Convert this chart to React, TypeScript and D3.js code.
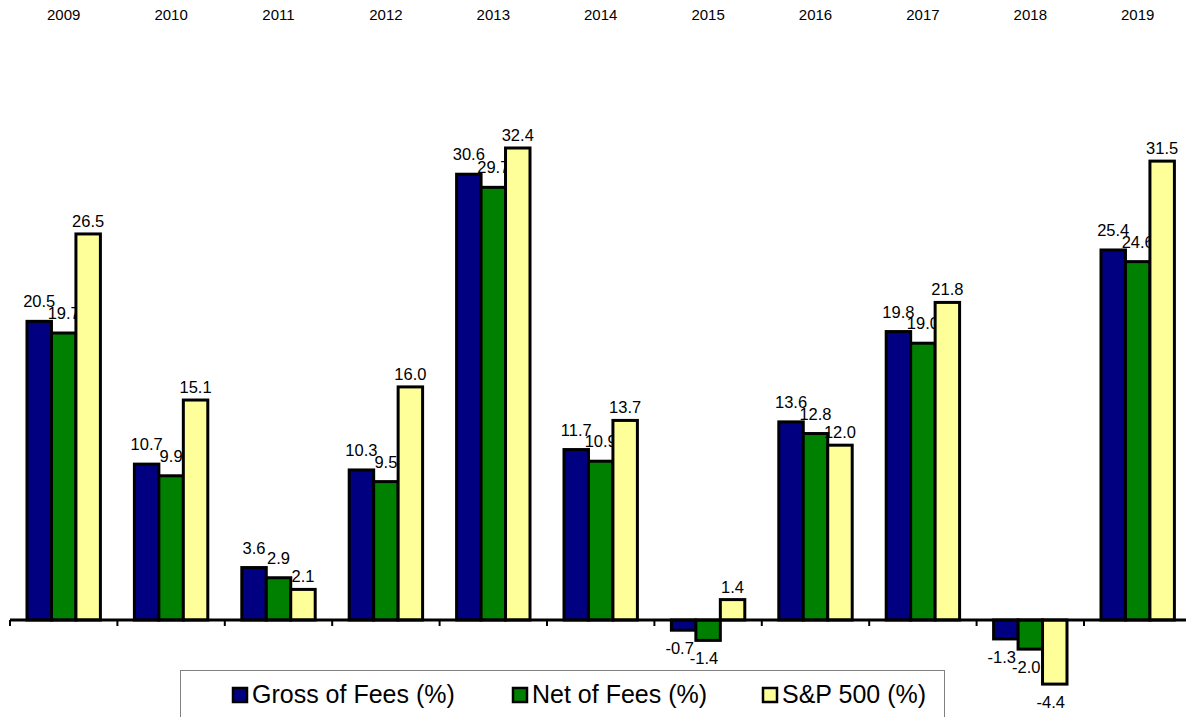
import React from "react";
import { scaleBand, scaleLinear } from "d3";

const years = ["2009", "2010", "2011", "2012", "2013", "2014", "2015", "2016", "2017", "2018", "2019"];
const gross = [20.5, 10.7, 3.6, 10.3, 30.6, 11.7, -0.7, 13.6, 19.8, -1.3, 25.4];
const net = [19.7, 9.9, 2.9, 9.5, 29.7, 10.9, -1.4, 12.8, 19.0, -2.0, 24.6];
const sp500 = [26.5, 15.1, 2.1, 16.0, 32.4, 13.7, 1.4, 12.0, 21.8, -4.4, 31.5];
const seriesNames = ["Gross of Fees (%)", "Net of Fees (%)", "S&P 500 (%)"];
const colors = ["#000080", "#008000", "#FFFF99"];

const W = 1186;
const H = 717;
const font = "'Liberation Sans', Arial, sans-serif";

export default function App() {
  const series = [gross, net, sp500];

  // scales
  const x = scaleBand().domain(years).range([10, 10 + 107.4 * years.length]);
  const inner = scaleBand().domain(["0", "1", "2"]).range([17, x.bandwidth() - 17]);
  const y = scaleLinear().domain([0, 32.4]).range([620, 148]);

  // label lift above bar tops, per series (Excel staggered them a bit)
  const lift = [14, 14, 7];
  const legendX = [232, 512, 762];

  return (
    <svg width={W} height={H} style={{ position: "absolute", left: 0, top: 0, background: "#fff" }}>
      {/* year labels */}
      {years.map((yr) => (
        <text key={yr} x={x(yr)! + x.bandwidth() / 2} y={20} textAnchor="middle" fontFamily={font} fontSize={15}>
          {yr}
        </text>
      ))}

      {/* bars */}
      {years.map((yr, i) => (
        <g key={yr} transform={`translate(${x(yr)},0)`}>
          {series.map((s, k) => {
            const v = s[i];
            const bx = inner(String(k))!;
            const top = v >= 0 ? y(v) : y(0);
            const h = Math.abs(y(v) - y(0));
            return (
              <g key={k}>
                <rect x={bx} y={top} width={inner.bandwidth()} height={h} fill={colors[k]} stroke="#000" strokeWidth={3} />
                <text
                  x={bx + inner.bandwidth() / 2 - (v < 0 ? 4 : 0)}
                  y={v >= 0 ? y(v) - lift[k] : y(v) + 24}
                  textAnchor="middle"
                  fontFamily={font}
                  fontSize={16.5}
                >
                  {v.toFixed(1)}
                </text>
              </g>
            );
          })}
        </g>
      ))}

      {/* axis */}
      <line x1={10} x2={W} y1={y(0)} y2={y(0)} stroke="#000" strokeWidth={3} />
      {years.map((yr) => (
        <line key={yr} x1={x(yr)!} x2={x(yr)!} y1={y(0)} y2={y(0) + 6} stroke="#000" strokeWidth={2} />
      ))}

      {/* legend */}
      <rect x={180.5} y={670.5} width={764} height={60} fill="#fff" stroke="#808080" strokeWidth={1} />
      {seriesNames.map((n, k) => (
        <g key={n} transform={`translate(${legendX[k]},687)`}>
          <rect x={1} y={1} width={14} height={14} fill={colors[k]} stroke="#000" strokeWidth={2.5} />
          <text x={20} y={16} fontFamily={font} fontSize={25}>
            {n}
          </text>
        </g>
      ))}
    </svg>
  );
}
